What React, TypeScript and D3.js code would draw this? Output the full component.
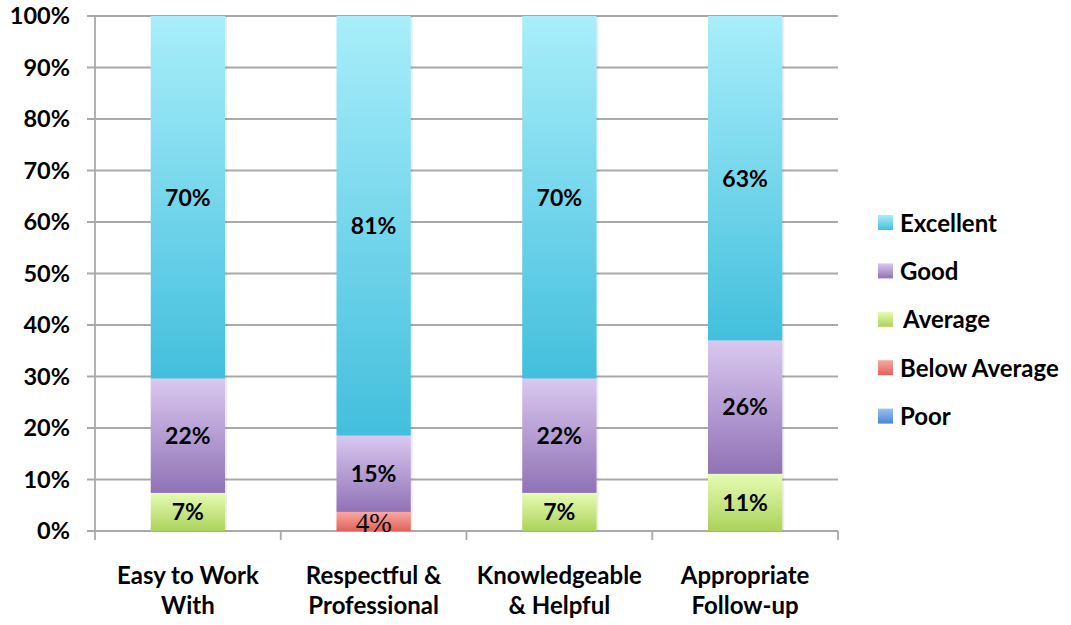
import React from "react";
import * as d3 from "d3";

const categories = [
  ["Easy to Work", "With"],
  ["Respectful &", "Professional"],
  ["Knowledgeable", "& Helpful"],
  ["Appropriate", "Follow-up"],
];
const seriesNames = ["Poor", "Below Average", "Average", "Good", "Excellent"];
// percentages per category (bottom to top)
const poor = [0, 0, 0, 0];
const belowAverage = [0, 3.7, 0, 0];
const average = [7.4, 0, 7.4, 11.1];
const good = [22.2, 14.8, 22.2, 25.9];
const excellent = [70.4, 81.4, 70.4, 63.0];
const yTicks = [0, 10, 20, 30, 40, 50, 60, 70, 80, 90, 100];
const legendOrder = ["Excellent", "Good", "Average", "Below Average", "Poor"];

const gradients: Record<string, [string, string]> = {
  Excellent: ["#a9eefa", "#42bfdd"],
  Good: ["#dac8f0", "#9072b6"],
  Average: ["#e6fcb4", "#acd25a"],
  "Below Average": ["#f9a9a2", "#e0625a"],
  Poor: ["#9cc2f0", "#4a84d4"],
};

export default function App() {
  const W = 1071, H = 625;
  const left = 95, right = 838, top = 16, bottom = 531;
  const font = "Lato, 'Open Sans', sans-serif";
  const values = [poor, belowAverage, average, good, excellent];
  const x = d3.scaleBand<number>().domain(d3.range(categories.length)).range([left, right]).paddingInner(0.6).paddingOuter(0.3);
  const band = d3.scaleBand<number>().domain(d3.range(categories.length)).range([left, right]);
  const y = d3.scaleLinear().domain([0, 100]).range([bottom, top]);
  const data = categories.map((_, i) => {
    const row: any = {};
    seriesNames.forEach((s, k) => (row[s] = values[k][i]));
    return row;
  });
  const stack = d3.stack<any>().keys(seriesNames).offset(d3.stackOffsetExpand);
  const layers = stack(data);
  const grid = "#a9a9a9";
  return (
    <svg width={W} height={H} style={{ position: "absolute", left: 0, top: 0, background: "#fff" }}>
      <defs>
        {seriesNames.map((s, k) => (
          <linearGradient key={s} id={`g${k}`} x1="0" y1="0" x2="0" y2="1">
            <stop offset="0" stopColor={gradients[s][0]} />
            <stop offset="1" stopColor={gradients[s][1]} />
          </linearGradient>
        ))}
      </defs>
      {yTicks.map((t) => (
        <g key={t}>
          {t > 0 && <line x1={87} x2={right} y1={y(t)} y2={y(t)} stroke={grid} strokeWidth={1.8} />}
          <text x={70} y={y(t)} dy="0.36em" textAnchor="end" fontFamily={font} fontWeight="bold" fontSize={23.5} fill="#000">
            {t}%
          </text>
        </g>
      ))}
      <line x1={left} x2={left} y1={top} y2={bottom} stroke={grid} strokeWidth={1.8} />
      <line x1={87} x2={right} y1={bottom} y2={bottom} stroke={grid} strokeWidth={1.8} />
      {d3.range(categories.length + 1).map((i) => {
        const xx = i < categories.length ? band(i)! : right;
        return <line key={i} x1={xx} x2={xx} y1={bottom} y2={bottom + 9} stroke={grid} strokeWidth={1.8} />;
      })}
      {categories.map((_, i) => (
        <rect key={"sh" + i} x={x(i)! + 2} y={top} width={x.bandwidth()} height={bottom - top} fill="#000" opacity={0.07} />
      ))}
      {layers.map((layer, k) =>
        layer.map((d, i) =>
          d[1] - d[0] > 0 ? (
            <rect key={`${k}-${i}`} x={x(i)} y={y(d[1] * 100)} width={x.bandwidth()} height={y(d[0] * 100) - y(d[1] * 100)} fill={`url(#g${k})`} />
          ) : null
        )
      )}
      {layers.map((layer, k) =>
        layer.map((d, i) => {
          if (d[1] - d[0] <= 0) return null;
          const v = values[k][i];
          const cx = x(i)! + x.bandwidth() / 2;
          const cy = (y(d[0] * 100) + y(d[1] * 100)) / 2;
          const serif = seriesNames[k] === "Below Average";
          return serif ? (
            <text key={`t${k}-${i}`} x={cx} y={cy + 10.5} textAnchor="middle"
              fontFamily="'Liberation Serif', 'DejaVu Serif', serif" fontSize={27} fill="#000">
              {Math.round(v)}%
            </text>
          ) : (
            <text key={`t${k}-${i}`} x={cx} y={cy} dy="0.36em" textAnchor="middle"
              fontFamily={font} fontWeight="bold" fontSize={23} fill="#000">
              {Math.round(v)}%
            </text>
          );
        })
      )}
      {categories.map((c, i) => (
        <text key={"c" + i} x={band(i)! + band.bandwidth() / 2} textAnchor="middle" fontFamily={font} fontWeight="bold" fontSize={24} fill="#000">
          <tspan x={band(i)! + band.bandwidth() / 2} y={584}>{c[0]}</tspan>
          <tspan x={band(i)! + band.bandwidth() / 2} y={614}>{c[1]}</tspan>
        </text>
      ))}
      {legendOrder.map((s, j) => {
        const k = seriesNames.indexOf(s);
        const ly = 223 + j * 48.4;
        const dx = s === "Average" ? 3 : 0;
        return (
          <g key={s}>
            <rect x={878} y={ly - 8} width={15} height={15} fill={`url(#g${k})`} />
            <text x={900 + dx} y={ly} dy="0.36em" fontFamily={font} fontWeight="bold" fontSize={24} fill="#000">
              {s}
            </text>
          </g>
        );
      })}
    </svg>
  );
}
